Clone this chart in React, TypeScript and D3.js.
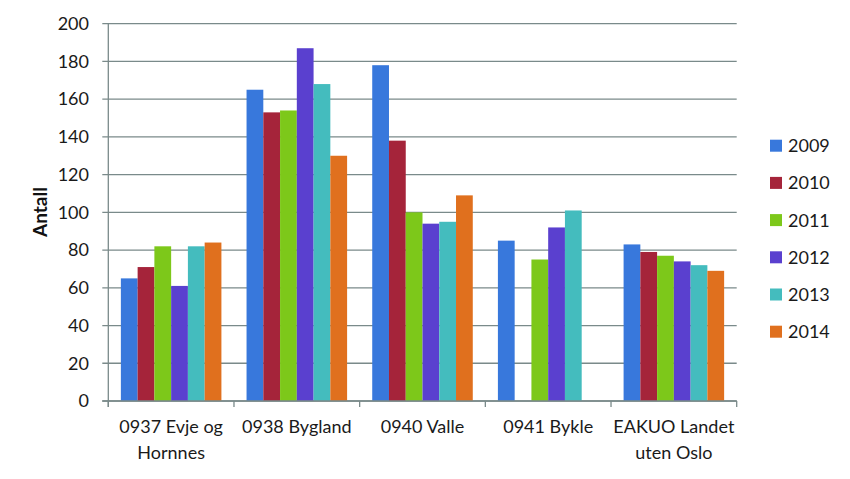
import React from "react";
import * as d3 from "d3";

const categories: string[][] = [
  ["0937 Evje og", "Hornnes"],
  ["0938 Bygland"],
  ["0940 Valle"],
  ["0941 Bykle"],
  ["EAKUO Landet", "uten Oslo"],
];
const years = ["2009", "2010", "2011", "2012", "2013", "2014"];
const v2009 = [65, 165, 178, 85, 83];
const v2010 = [71, 153, 138, null, 79];
const v2011 = [82, 154, 100, 75, 77];
const v2012 = [61, 187, 94, 92, 74];
const v2013 = [82, 168, 95, 101, 72];
const v2014 = [84, 130, 109, null, 69];
const series = [v2009, v2010, v2011, v2012, v2013, v2014];
const colors = ["#3878DC", "#A5243A", "#7DC81A", "#5A40CF", "#44BCBE", "#E0701E"];
const yTicks = [0, 20, 40, 60, 80, 100, 120, 140, 160, 180, 200];

const W = 850, H = 479;
const left = 108.3, right = 736.7, top = 23.7, bottom = 401;
const FONT = "Lato, 'Open Sans', sans-serif";
const grid = "#7A8A8A";

export default function App() {
  const x0 = d3.scaleBand<number>().domain(d3.range(categories.length)).range([left, right]).paddingInner(0.2).paddingOuter(0.1);
  const x1 = d3.scaleBand<number>().domain(d3.range(years.length)).range([0, x0.bandwidth()]);
  const y = d3.scaleLinear().domain([0, 200]).range([bottom, top]);
  const step = (right - left) / categories.length;

  return (
    <svg width={W} height={H} style={{ position: "absolute", left: 0, top: 0, background: "#fff" }}>
      {yTicks.map((t) => (
        <g key={t}>
          <line x1={left - 6} x2={right} y1={y(t)} y2={y(t)} stroke={grid} strokeWidth={1.3} />
          <text x={89} y={y(t)} dy="0.35em" textAnchor="end" fontFamily={FONT} fontSize={18} fill="#1a1a1a">{t}</text>
        </g>
      ))}
      <line x1={left} x2={left} y1={top} y2={bottom + 6} stroke={grid} strokeWidth={1.3} />
      {d3.range(categories.length + 1).map((i) => (
        <line key={i} x1={left + i * step} x2={left + i * step} y1={bottom} y2={bottom + 6} stroke={grid} strokeWidth={1.3} />
      ))}
      {series.map((s, si) =>
        s.map((v, ci) =>
          v == null ? null : (
            <rect key={si + "-" + ci} x={(x0(ci) as number) + (x1(si) as number)} width={x1.bandwidth()} y={y(v)} height={bottom - y(v)} fill={colors[si]} />
          )
        )
      )}
      <line x1={left - 6} x2={right} y1={bottom} y2={bottom} stroke={grid} strokeWidth={1.3} />
      {categories.map((lines, ci) => (
        <text key={ci} x={left + (ci + 0.5) * step} y={433} textAnchor="middle" fontFamily={FONT} fontSize={18} fill="#1a1a1a">
          {lines.map((l, li) => (
            <tspan key={li} x={left + (ci + 0.5) * step} dy={li === 0 ? 0 : 26}>{l}</tspan>
          ))}
        </text>
      ))}
      <text transform={`translate(47,212) rotate(-90)`} textAnchor="middle" fontFamily={FONT} fontSize={19} fontWeight="bold" fill="#111">Antall</text>
      {years.map((yr, i) => (
        <g key={yr} transform={`translate(770,${145.7 + i * 37.2})`}>
          <rect x={0} y={-6} width={12} height={12} fill={colors[i]} />
          <text x={18} y={0} dy="0.36em" fontFamily={FONT} fontSize={18} fill="#1a1a1a">{yr}</text>
        </g>
      ))}
    </svg>
  );
}
